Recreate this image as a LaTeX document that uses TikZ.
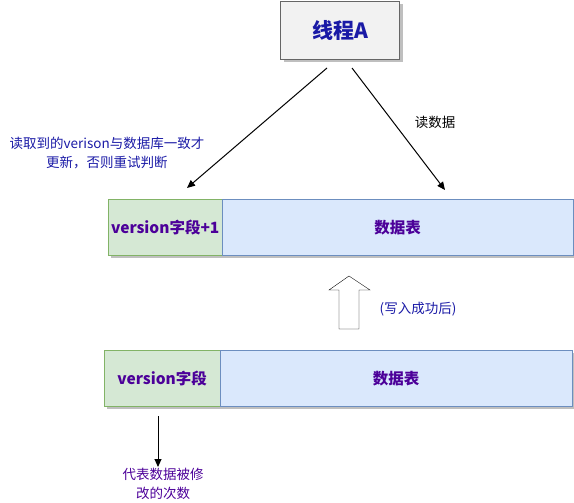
\documentclass[tikz,border=0pt]{standalone}
\usepackage{fontspec}
\setmainfont{Noto Sans CJK SC}
\usetikzlibrary{arrows.meta,shadows}
\definecolor{txtblue}{HTML}{1A1AA6}
\definecolor{txtpurple}{HTML}{4C0099}
\definecolor{cellgreen}{HTML}{D5E8D4}
\definecolor{linegreen}{HTML}{82B366}
\definecolor{cellblue}{HTML}{DAE8FC}
\definecolor{lineblue}{HTML}{6C8EBF}
\tikzset{
  cell/.style={draw, minimum height=56pt, inner sep=0pt, anchor=north west,
    drop shadow={shadow xshift=3pt, shadow yshift=-3pt, fill=black!25, opacity=1},
    font=\bfseries\fontsize{15.5}{17}\selectfont, text=txtpurple},
  verbox/.style={cell, fill=cellgreen, draw=linegreen},
  tabbox/.style={cell, fill=cellblue, draw=lineblue},
  note/.style={align=center, font=\fontsize{13.5}{19}\selectfont},
  arr/.style={-{Triangle[length=8pt,width=7pt]}, line width=1pt}
}
\begin{document}
\begin{tikzpicture}[x=1pt,y=-1pt]
  \useasboundingbox (0,0) rectangle (574,503);

  % thread
  \node[draw=black!60, fill=black!5, minimum width=119pt, minimum height=58pt,
    drop shadow={shadow xshift=3pt, shadow yshift=-3pt, fill=black!25, opacity=1},
    font=\bfseries\fontsize{21}{23}\selectfont, text=txtblue] (thread) at (340,30) {线程A};

  % upper row (after write)
  \node[verbox, minimum width=114pt] (verup) at (108,199) {version字段+1};
  \node[tabbox, minimum width=351pt] (tabup) at (222,199) {数据表};

  % lower row (before write)
  \node[verbox, minimum width=116pt] (verlow) at (104,350) {version字段};
  \node[tabbox, minimum width=352pt] (tablow) at (220,350) {数据表};

  % arrows from thread
  \coordinate (outl) at (327,68);
  \coordinate (inl) at (187,188);
  \coordinate (outr) at (352,68);
  \coordinate (inr) at (445,190);
  \draw[arr] (outl) -- (inl);
  \draw[arr] (outr) -- (inr);
  \node[note, text=txtblue] (check) at (107,153) {读取到的verison与数据库一致才\\更新，否则重试判断};
  \node[note] (read) at (435,122) {读数据};

  % hollow arrow
  \draw[fill=white] (339,329) -- (339,290) -- (329,290) -- (349,276)
    -- (370,290) -- (359,290) -- (359,329) -- cycle;
  \node[note, text=txtblue] (done) at (418,309) {(写入成功后)};

  % meaning of version
  \coordinate (vdown) at (158,416);
  \coordinate (vend) at (158,467);
  \draw[arr] (vdown) -- (vend);
  \node[note, text=txtpurple] (meaning) at (163,484) {代表数据被修\\改的次数};
\end{tikzpicture}
\end{document}
